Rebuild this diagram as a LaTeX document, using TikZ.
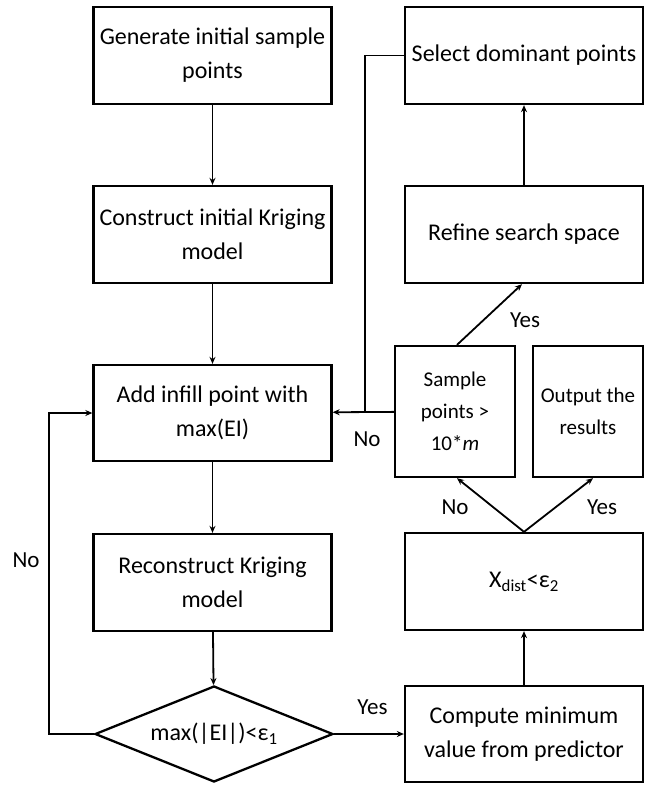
\documentclass[tikz,border=0pt]{standalone}
\usepackage{fontspec}
\setmainfont{Carlito}
\usepackage{tikz}
\usetikzlibrary{shapes.geometric, arrows.meta, positioning}
\tikzset{
  flowbox/.style={
    rectangle, draw=black, line width=2.3pt,
    inner sep=0pt, align=center,
    font=\fontsize{24}{34}\selectfont,
  },
  arrow/.style={-{Stealth[length=7pt, width=6pt]}, line width=1.8pt},
  annot/.style={font=\fontsize{23}{28}\selectfont, inner sep=0pt},
}

\begin{document}
\begin{tikzpicture}[
  x=1pt, y=-1pt,
  wide/.style={flowbox, minimum width=238pt, minimum height=97pt},
  narrow/.style={flowbox, minimum height=131pt,
                 font=\fontsize{21}{32}\selectfont},
  check/.style={diamond, draw=black, line width=2.3pt, aspect=2.48,
                inner sep=0pt, minimum width=238pt, minimum height=96pt,
                font=\fontsize{24}{30}\selectfont},
  line/.style={line width=1.8pt},
]
  \useasboundingbox (0,0) rectangle (645,785);

  % Left column
  \node[wide] (gen) at (212.5,55.5)  {Generate initial sample\\points};
  \node[wide] (con) at (212.5,234.5) {Construct initial Kriging\\model};
  \node[wide, minimum height=96pt] (add) at (212.5,413)
        {Add infill point with\\max(EI)};
  \node[wide] (rec) at (212.5,582.5) {Reconstruct Kriging\\model};
  \node[check] (dia) at (214,734) {max(|EI|)<ε\textsubscript{1}};

  % Right column
  \node[wide] (sel) at (524,55.5)  {Select dominant points};
  \node[wide] (ref) at (524,234.5) {Refine search space};
  \node[narrow, minimum width=120pt] (sam) at (455,411.5)
        {Sample\\points >\\10*\textit{m}};
  \node[narrow, minimum width=110pt] (out) at (588,411.5)
        {Output the\\results};
  \node[wide] (xd)  at (524,581.5) {X\textsubscript{dist}<ε\textsubscript{2}};
  \node[wide, minimum height=96pt] (cmp) at (524,734)
        {Compute minimum\\value from predictor};

  \coordinate (jn)    at (365,413);
  \coordinate (loopL) at (49,734);

  % Main flow
  \draw[arrow] (gen) -- (con);
  \draw[arrow] (con) -- (add);
  \draw[arrow] (add) -- (rec);
  \draw[arrow] (rec) -- (dia);
  \draw[arrow] (dia) -- (cmp) node[annot, pos=0.55, above=18pt] {Yes};
  \draw[arrow] (cmp) -- (xd);
  \draw[arrow] (xd.north) -- ([xshift=2pt]sam.south);
  \draw[arrow] (xd.north) -- ([xshift=5pt]out.south);
  \draw[arrow] ([xshift=2pt]sam.north) -- ([xshift=-2pt]ref.south);
  \draw[arrow] (ref) -- (sel);
  \draw[arrow] (sam) -- (add);
  \draw[line]  (sel.west) -| (jn);
  \draw[arrow] (dia.west) -- (loopL) |- (add.west);

  % Labels
  \node[annot] (noL)   at (26,560)  {No};
  \node[annot] (noM)   at (367,439) {No};
  \node[annot] (yesR)  at (525,320) {Yes};
  \node[annot] (noS)   at (455,507) {No};
  \node[annot] (yesO)  at (602,507) {Yes};

\end{tikzpicture}
\end{document}
